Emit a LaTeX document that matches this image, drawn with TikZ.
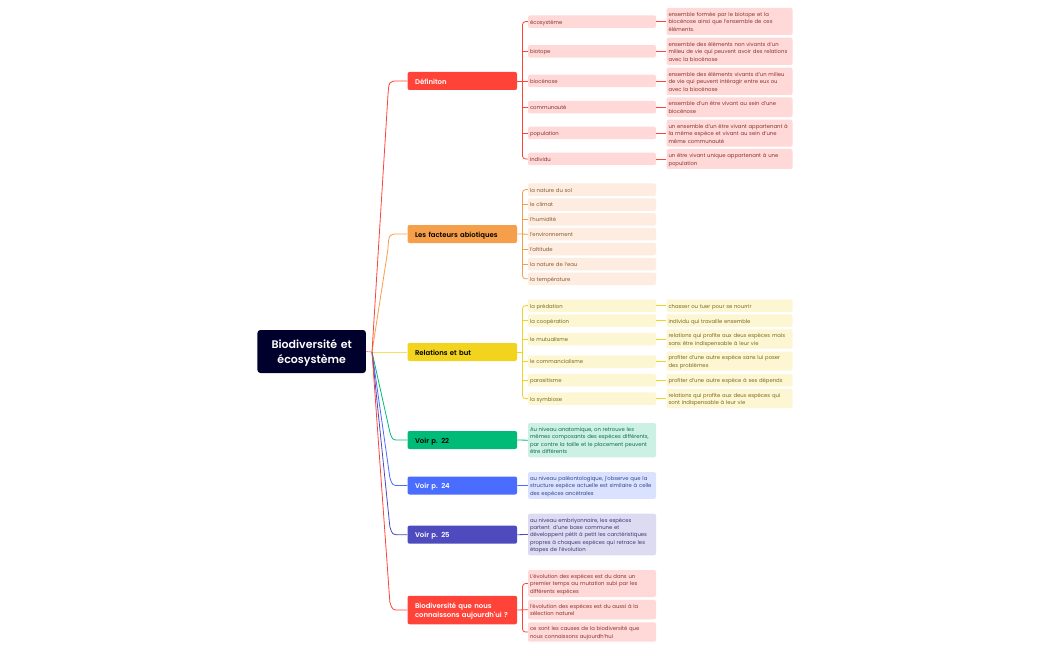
\documentclass[tikz,border=0pt]{standalone}
\usepackage{fontspec}
\setmainfont{Poppins}
\newfontfamily\semib{Poppins SemiBold}
\usetikzlibrary{calc}
\definecolor{cRoot}{HTML}{00002D}
\definecolor{cRed}{HTML}{FF4338}
\definecolor{cOra}{HTML}{F59F4B}
\definecolor{cYel}{HTML}{F2D31E}
\definecolor{cGre}{HTML}{00BB77}
\definecolor{cBlu}{HTML}{4A6CFF}
\definecolor{cInd}{HTML}{4E4BBF}
\definecolor{pRed}{HTML}{FFD9D7}
\definecolor{pOra}{HTML}{FDECDF}
\definecolor{pYel}{HTML}{FDF6D3}
\definecolor{pGre}{HTML}{CCF1E4}
\definecolor{pBlu}{HTML}{DBE2FF}
\definecolor{pInd}{HTML}{DCDBF1}
\definecolor{tRed}{HTML}{8A3530}
\definecolor{tOra}{HTML}{855C35}
\definecolor{tYel}{HTML}{7A6B20}
\definecolor{tGre}{HTML}{0E6E4C}
\definecolor{tBlu}{HTML}{334590}
\definecolor{tInd}{HTML}{3A3975}
\tikzset{
  box/.style={rectangle,rounded corners=2pt,align=left,anchor=center,inner ysep=0pt},
  struts/.style 2 args={execute at begin node={\rule{0pt}{#1}},execute at end node={\rule[-#2]{0pt}{#2}}},
  rootbox/.style={box,struts={12pt}{4pt},fill=cRoot,text=white,text width=100pt,inner xsep=4.25pt,minimum height=43pt,align=center,rounded corners=3pt,font=\fontsize{11}{15}\selectfont\semib},
  mainbox/.style={box,struts={8.2pt}{2pt},text width=94.5pt,inner xsep=7.5pt,minimum height=18pt,font=\fontsize{6.9}{9.6}\selectfont\semib},
  leaftwo/.style={box,struts={6.5pt}{1.6pt},text width=124pt,inner xsep=2pt,font=\fontsize{5.3}{7.4}\selectfont},
  leafthree/.style={box,struts={6.5pt}{1.6pt},text width=122pt,inner xsep=2pt,font=\fontsize{5.3}{7.4}\selectfont},
  wire/.style={line width=0.8pt}
}
\newcommand{\mainup}[2]{\draw[wire,#1] (rs) -- ($(#2.west)+(-19.5,16)$) .. controls ($(#2.west)+(-18.5,0)$) .. ($(#2.west)+(-9,0)$) -- (#2.west);}
\newcommand{\maindown}[2]{\draw[wire,#1] (rs) -- ($(#2.west)+(-17.5,-8)$) .. controls ($(#2.west)+(-15,0)$) .. ($(#2.west)+(-8,0)$) -- (#2.west);}
\begin{document}
\begin{tikzpicture}[x=1pt,y=-1pt]
\useasboundingbox (0,0) rectangle (1050,650);
\fill[white] (0,0) rectangle (1050,650);
\node[rootbox] (root) at (311.7,351.5) {Biodiversité et\\écosystème};
\coordinate (rs) at (372,352);
\node[mainbox,fill=cRed,text=white] (m1) at (462.3,81) {Définiton};
\node[mainbox,fill=cOra,text=black] (m2) at (462.3,234) {Les facteurs abiotiques};
\node[mainbox,fill=cYel,text=black] (m3) at (462.3,352) {Relations et but};
\node[mainbox,fill=cGre,text=black] (m4) at (462.3,440) {Voir p. 22};
\node[mainbox,fill=cBlu,text=white] (m5) at (462.3,485.5) {Voir p. 24};
\node[mainbox,fill=cInd,text=white] (m6) at (462.3,534.7) {Voir p. 25};
\node[mainbox,fill=cRed,text=white,minimum height=28.5pt] (m7) at (462.3,610) {Biodiversité que nous\\connaissons aujourdh'ui ?};
\draw[wire,cYel!70!white] (rs) -- (m3.west);
\maindown{cGre}{m4}
\maindown{cBlu}{m5}
\maindown{cInd}{m6}
\maindown{cRed}{m7}
\mainup{cOra}{m2}
\mainup{cRed}{m1}
\draw[wire,cRed!60!white] (root.east) -- (rs);
% Definition
\tikzset{a/.style={leaftwo,fill=pRed,text=tRed,minimum height=12.5pt},b/.style={leafthree,fill=pRed,text=tRed}}
\node[a] (a1) at (592,21.6) {écosystème};
\node[a] (a2) at (592,51.3) {biotope};
\node[a] (a3) at (592,81) {biocénose};
\node[a] (a4) at (592,107.2) {communauté};
\node[a] (a5) at (592,133) {population};
\node[a] (a6) at (592,159) {individu};
\node[b,minimum height=27pt] (b1) at (729.5,21.5) {ensemble formée par le biotope et la\\biocénose ainsi que l'ensemble de ces\\éléments.};
\node[b,minimum height=27.3pt] (b2) at (729.5,51.3) {ensemble des éléments non vivants d'un\\milieu de vie qui peuvent avoir des relations\\avec la biocénose};
\node[b,minimum height=27.3pt] (b3) at (729.5,81.3) {ensemble des éléments vivants d'un milieu\\de vie qui peuvent intéragir entre eux ou\\avec la biocénose};
\node[b,minimum height=19.7pt] (b4) at (729.5,107.2) {ensemble d'un être vivant au sein d'une\\biocénose};
\node[b,minimum height=27pt] (b5) at (729.5,133.2) {un ensemble d'un être vivant appartenant à\\la même espèce et vivant au sein d'une\\même communauté};
\node[b,minimum height=20pt] (b6) at (729.5,159) {un être vivant unique appartenant à une\\population};
\coordinate (busa) at (522.5,81);
\draw[wire,cRed] (m1.east) -- (a3.west);
\draw[wire,cRed,rounded corners=3pt] (a1.west) -| (busa) |- (a6.west);
\foreach \n in {a2,a4,a5} \draw[wire,cRed] (\n.west) -- (\n.west -| busa);
\foreach \n/\m in {a1/b1,a2/b2,a3/b3,a4/b4,a5/b5,a6/b6} \draw[wire,cRed] (\n.east) -- (\n.east -| \m.west);
% Abiotic
\tikzset{c/.style={leaftwo,fill=pOra,text=tOra,minimum height=12.5pt}}
\node[c] (c1) at (592,189.6) {la nature du sol};
\node[c] (c2) at (592,204.5) {le climat};
\node[c] (c3) at (592,219.3) {l'humidité};
\node[c] (c4) at (592,234.2) {l'environnement};
\node[c] (c5) at (592,249) {l'altitude};
\node[c] (c6) at (592,264) {la nature de l'eau};
\node[c] (c7) at (592,278.8) {la température};
\coordinate (busc) at (522.5,234);
\draw[wire,cOra] (m2.east) -- (c4.west);
\draw[wire,cOra,rounded corners=3pt] (c1.west) -| (busc) |- (c7.west);
\foreach \n in {c2,c3,c5,c6} \draw[wire,cOra] (\n.west) -- (\n.west -| busc);
% Relations
\tikzset{d/.style={leaftwo,fill=pYel,text=tYel,minimum height=12.5pt},e/.style={leafthree,fill=pYel,text=tYel}}
\node[d] (d1) at (592,305.6) {la prédation};
\node[d] (d2) at (592,320.6) {la coopération};
\node[d] (d3) at (592,339) {le mutualisme};
\node[d] (d4) at (592,361.5) {le commancialisme};
\node[d] (d5) at (592,380.2) {parasitisme};
\node[d] (d6) at (592,398.6) {la symbiose};
\node[e,minimum height=12.5pt] (e1) at (729.5,305.6) {chasser ou tuer pour se nourrir};
\node[e,minimum height=12.5pt] (e2) at (729.5,320.6) {individu qui travaille ensemble};
\node[e,minimum height=19.4pt] (e3) at (729.5,339) {relations qui profite aux deux espèces mais\\sans être indispensable à leur vie};
\node[e,minimum height=19pt] (e4) at (729.5,361.2) {profiter d'une autre espèce sans lui poser\\des problèmes};
\node[e,minimum height=12.4pt] (e5) at (729.5,380.2) {profiter d'une autre espèce à ses dépends};
\node[e,minimum height=19.3pt] (e6) at (729.5,398.4) {relations qui profite aux deux espèces qui\\sont indispensable à leur vie};
\coordinate (busd) at (522.5,352);
\draw[wire,cYel] (m3.east) -- (busd);
\draw[wire,cYel,rounded corners=3pt] (d1.west) -| (busd) |- (d6.west);
\foreach \n in {d2,d3,d4,d5} \draw[wire,cYel] (\n.west) -- (\n.west -| busd);
\foreach \n/\m in {d1/e1,d2/e2,d3/e3,d4/e4,d5/e5,d6/e6} \draw[wire,cYel] (\n.east) -- (\n.east -| \m.west);
% Single leaves
\node[leaftwo,fill=pGre,text=tGre,minimum height=34.3pt] (f) at (592,440.2) {Au niveau anatomique, on retrouve les\\mêmes composants des espèces différents,\\par contre la taille et le placement peuvent\\être différents};
\node[leaftwo,fill=pBlu,text=tBlu,minimum height=26.7pt] (g) at (592,485.4) {au niveau paléontologique, j'observe que la\\structure espèce actuelle est similaire à celle\\des espèces ancétrales};
\node[leaftwo,fill=pInd,text=tInd,minimum height=41.6pt] (h) at (592,534.5) {au niveau embriyonnaire, les espèces\\partent\ \ d'une base commune et\\développent pétit à petit les carctéristiques\\propres à chaques espèces qui retrace les\\étapes de l'évolution};
\draw[wire,cGre] (m4.east) -- (f.west);
\draw[wire,cBlu] (m5.east) -- (g.west);
\draw[wire,cInd] (m6.east) -- (h.west);
% Biodiversity
\tikzset{k/.style={leaftwo,fill=pRed,text=tRed}}
\node[k,minimum height=27pt] (k1) at (592,583.5) {L'évolution des espèces est du dans un\\premier temps au mutation subi par les\\différents espèces};
\node[k,minimum height=19.5pt] (k2) at (592,609.7) {l'évolution des espèces est du aussi à la\\sélection naturel};
\node[k,minimum height=19.4pt] (k3) at (592,632) {ce sont les causes de la biodiversité que\\nous connaissons aujourdh'hui};
\coordinate (busk) at (522.5,610);
\draw[wire,cRed] (m7.east) -- (k2.west);
\draw[wire,cRed,rounded corners=3pt] (k1.west) -| (busk) |- (k3.west);
\end{tikzpicture}
\end{document}
